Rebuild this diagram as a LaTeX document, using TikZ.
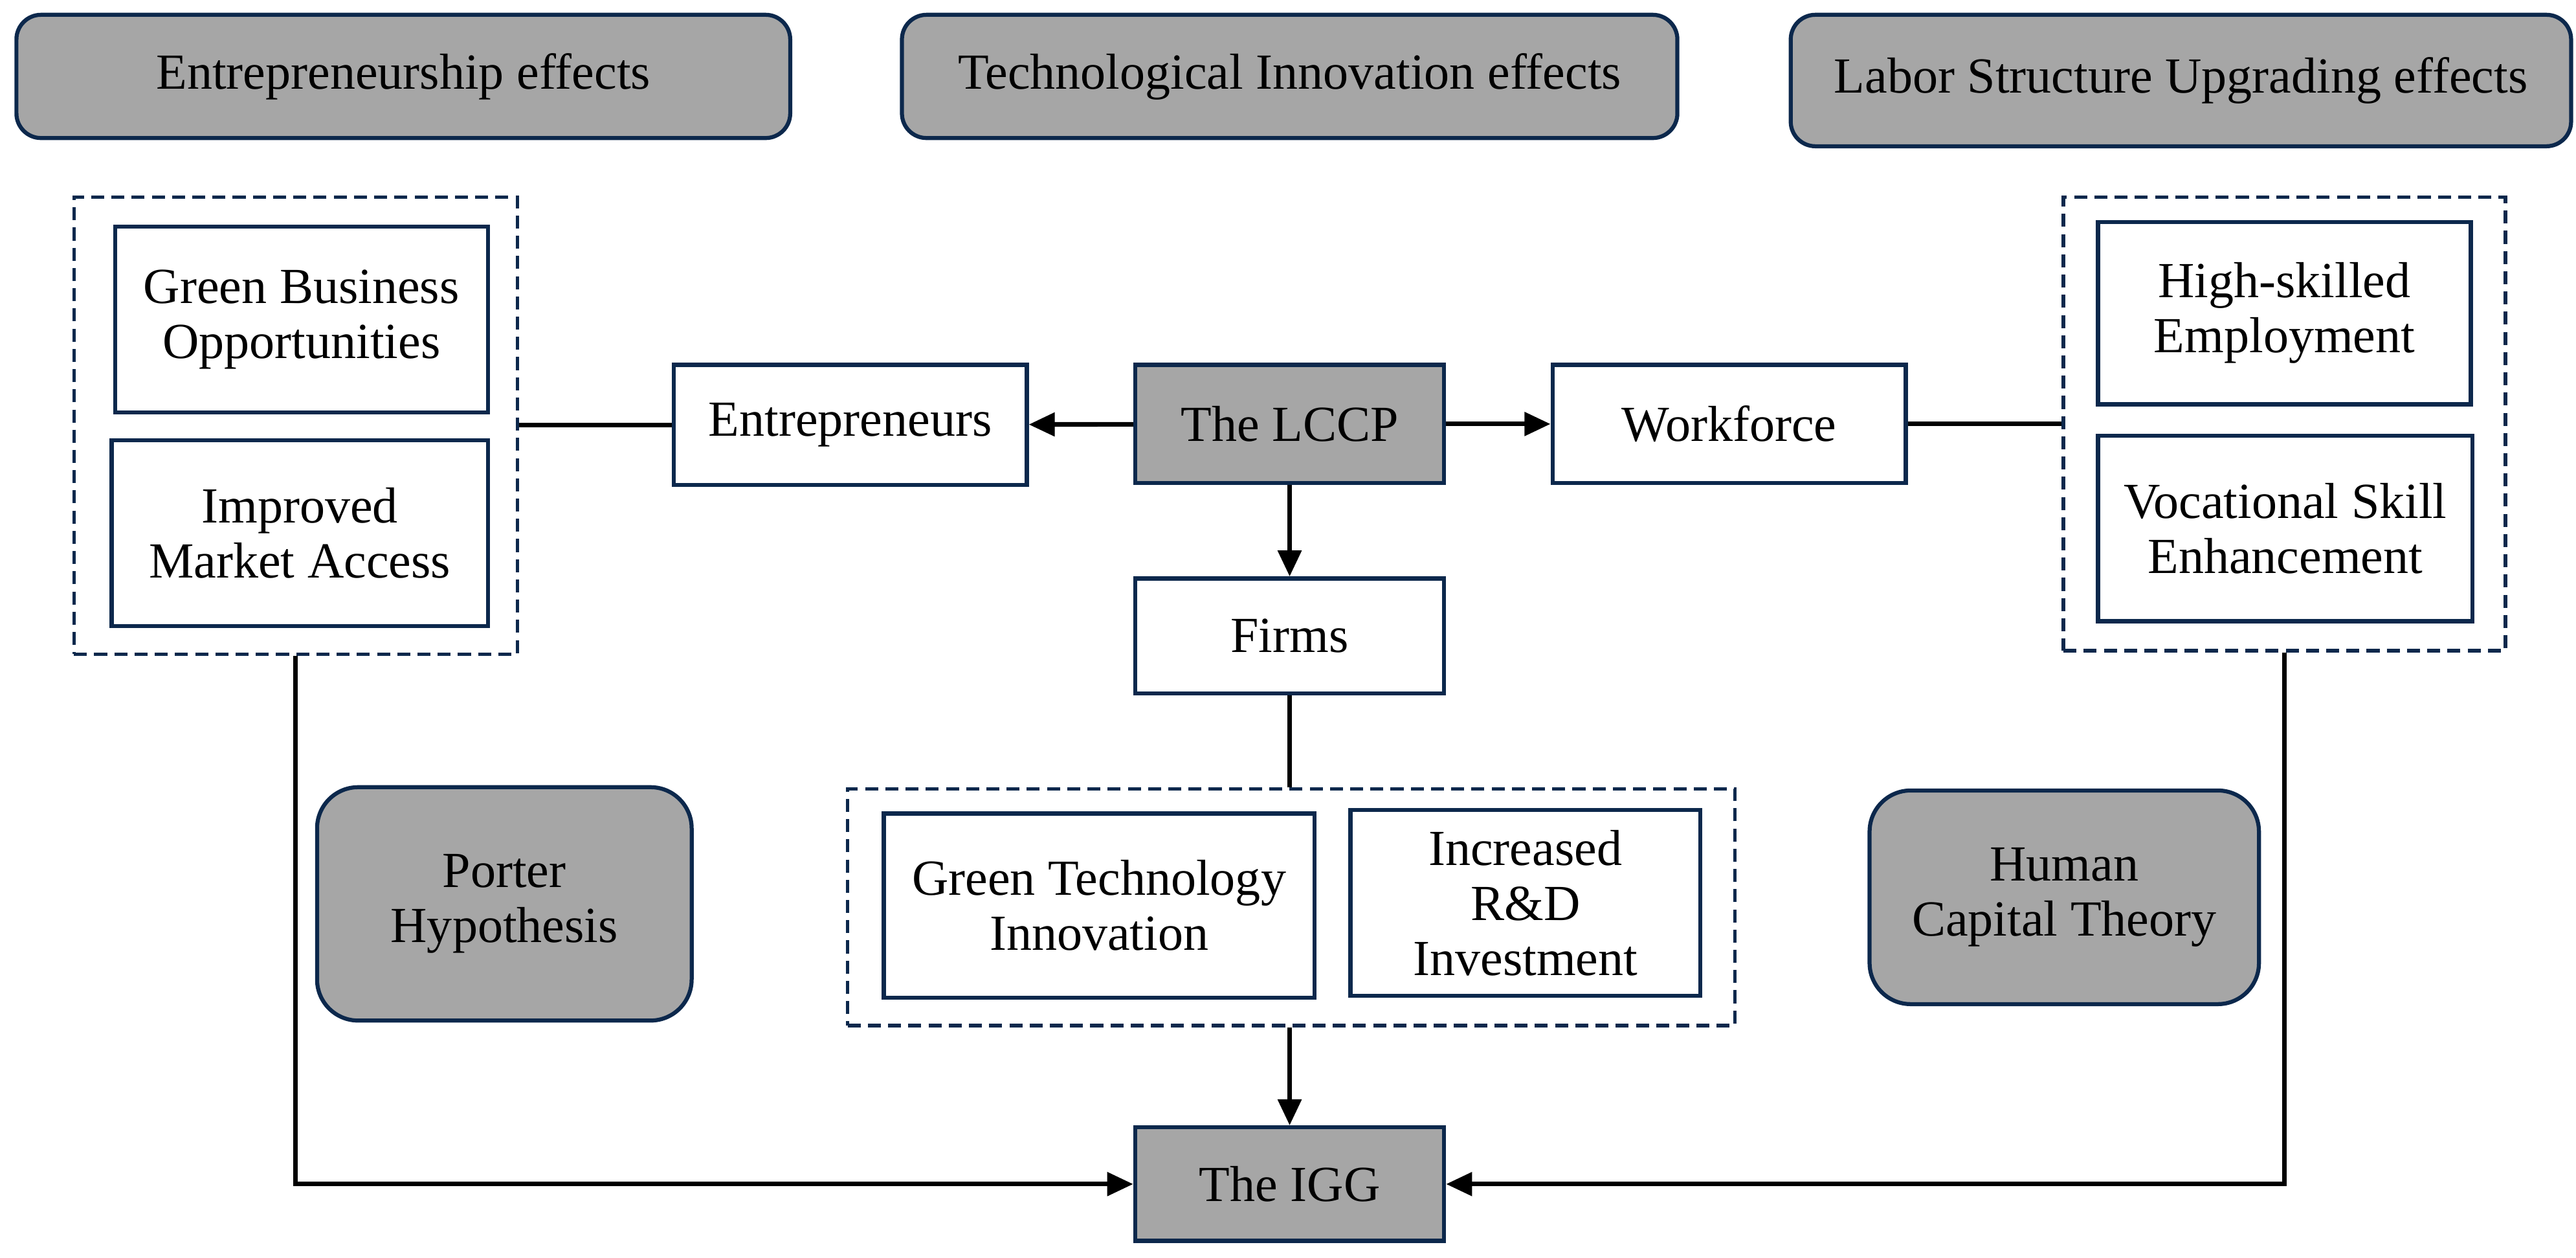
\documentclass[tikz,border=0pt]{standalone}
\usepackage{fontspec}
\setmainfont{Liberation Serif}
\usetikzlibrary{arrows.meta}

\definecolor{boxnavy}{RGB}{12,40,76}
\definecolor{boxgray}{RGB}{166,166,166}

\tikzset{
  base/.style={draw=boxnavy, line width=1.4pt, align=center, inner sep=2pt,
    font=\fontsize{17.5}{19}\selectfont},
  effbox/.style={base, fill=boxgray, rounded corners=3mm},
  keybox/.style={base, fill=boxgray},
  plainbox/.style={base, fill=white},
  theorybox/.style={base, fill=boxgray, rounded corners=5mm},
  groupbox/.style={draw=boxnavy, line width=1.2pt, dash pattern=on 4.5pt off 2.5pt},
  link/.style={line width=1.6pt},
  arr/.style={link, -{Triangle[length=9pt,width=8pt]}},
}

\begin{document}
\begin{tikzpicture}[x=0.2mm, y=-0.2mm]

	\useasboundingbox (0,0) rectangle (1568,765.1);

	% headings
	\node[effbox, minimum width=94.2mm, minimum height=15mm] (enteff) at (245.5,46.5) {Entrepreneurship effects};
	\node[effbox, minimum width=94.4mm, minimum height=15mm] (techeff) at (785,46.5) {Technological Innovation effects};
	\node[effbox, minimum width=95mm, minimum height=16mm] (labeff) at (1327.5,49) {Labor Structure Upgrading effects};

	% dashed groups
	\node[groupbox, minimum width=54mm, minimum height=55.6mm] (lgrp) at (180,259) {};
	\node[groupbox, minimum width=53.8mm, minimum height=55.2mm] (rgrp) at (1390.5,258) {};
	\node[groupbox, minimum width=108mm, minimum height=28.8mm] (mgrp) at (786,552) {};

	% entrepreneurship side
	\node[plainbox, minimum width=45.4mm, minimum height=22.6mm] (gbo) at (183.5,194.5) {Green Business\\Opportunities};
	\node[plainbox, minimum width=45.8mm, minimum height=22.6mm] (ima) at (182.5,324.5) {Improved\\Market Access};
	\node[plainbox, minimum width=43mm, minimum height=14.6mm] (entr) at (517.5,258.5) {Entrepreneurs};

	% centre
	\node[keybox, minimum width=37.6mm, minimum height=14.4mm] (lccp) at (785,258) {The LCCP};
	\node[plainbox, minimum width=37.6mm, minimum height=14mm] (firms) at (785,387) {Firms};
	\node[plainbox, minimum width=52.4mm, minimum height=22.4mm] (gti) at (669,551) {Green Technology\\Innovation};
	\node[plainbox, minimum width=42.6mm, minimum height=22.6mm] (rdi) at (928.5,549.5) {Increased\\R\&D\\Investment};
	\node[keybox, minimum width=37.6mm, minimum height=13.8mm] (igg) at (785,720.5) {The IGG};

	% labour side
	\node[plainbox, minimum width=43mm, minimum height=14.4mm] (work) at (1052.5,258) {Workforce};
	\node[plainbox, minimum width=45.4mm, minimum height=22.2mm] (hse) at (1390.5,190.5) {High-skilled\\Employment};
	\node[plainbox, minimum width=45.6mm, minimum height=22.6mm] (vse) at (1391,321.5) {Vocational Skill\\Enhancement};

	% theories
	\node[theorybox, minimum width=45.6mm, minimum height=28.4mm] (porter) at (307,550) {Porter\\Hypothesis};
	\node[theorybox, minimum width=47.4mm, minimum height=26mm] (hct) at (1256.5,546) {Human\\Capital Theory};

	% connectors
	\draw[arr] (lccp) -- (entr);
	\draw[arr] (lccp) -- (work);
	\draw[arr] (lccp) -- (firms);
	\draw[link] (entr.west) -- (lgrp.east |- entr.west);
	\draw[link] (work.east) -- (rgrp.west |- work.east);
	\draw[link] (firms.south) -- (firms.south |- mgrp.north);
	\draw[arr] (igg.north |- mgrp.south) -- (igg.north);
	\draw[arr] (lgrp.south) |- (igg.west);
	\draw[arr] (rgrp.south) |- (igg.east);

\end{tikzpicture}
\end{document}
